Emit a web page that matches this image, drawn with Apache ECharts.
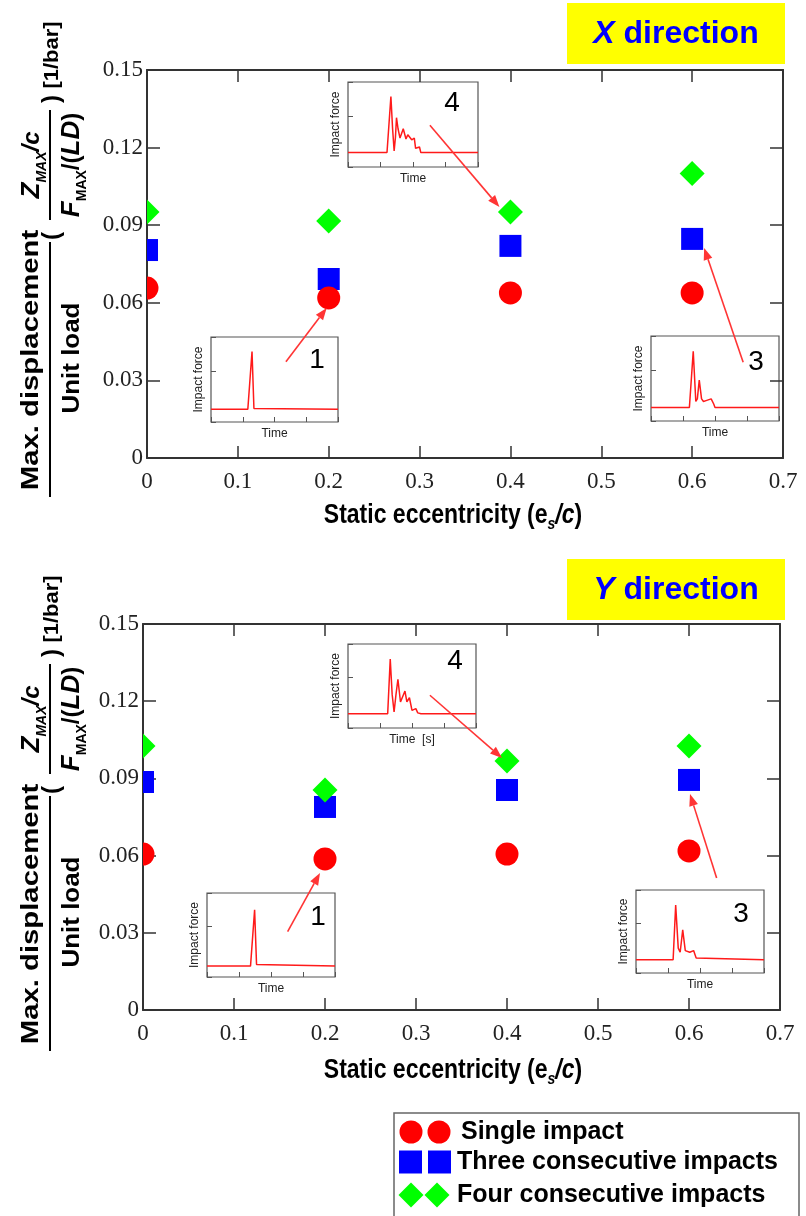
<!DOCTYPE html>
<html>
<head>
<meta charset="utf-8">
<script src="https://cdn.jsdelivr.net/npm/echarts@6/dist/echarts.min.js"></script>
<style>
  html, body { margin: 0; padding: 0; background: #fff; }
  #chart { width: 806px; height: 1216px; }
</style>
</head>
<body>
<div id="chart"></div>
<script>
// Static eccentricity positions (e_s/c)
const eccentricity = [0, 0.2, 0.4, 0.6];

// X direction: max. displacement per unit load [1/bar]
const xSingle = [0.0657, 0.0619, 0.0638, 0.0638];
const xThree  = [0.0804, 0.0692, 0.0820, 0.0847];
const xFour   = [0.0951, 0.0916, 0.0951, 0.1100];

// Y direction: max. displacement per unit load [1/bar]
const ySingle = [0.0606, 0.0587, 0.0606, 0.0618];
const yThree  = [0.0886, 0.0789, 0.0855, 0.0894];
const yFour   = [0.1026, 0.0855, 0.0968, 0.1026];

// Tick labels
const xTickLabels = ['0', '0.1', '0.2', '0.3', '0.4', '0.5', '0.6', '0.7'];
const yTickLabels = ['0', '0.03', '0.06', '0.09', '0.12', '0.15'];

// Legend entries
const seriesNames = ['Single impact', 'Three consecutive impacts', 'Four consecutive impacts'];

// Impact force histories shown in the small panels: [time, force] (normalised)
const pulseX1 = [[0,0.15],[0.29,0.15],[0.305,0.16],[0.323,0.83],[0.338,0.16],[0.35,0.15],[1,0.15]];
const pulseX4 = [[0,0.17],[0.30,0.17],[0.315,0.5],[0.33,0.83],[0.343,0.45],[0.355,0.19],[0.365,0.35],[0.373,0.58],[0.385,0.45],[0.40,0.34],[0.425,0.45],[0.446,0.33],[0.46,0.38],[0.49,0.32],[0.51,0.34],[0.52,0.22],[0.535,0.21],[0.55,0.235],[0.56,0.17],[1,0.17]];
const pulseX3 = [[0,0.16],[0.30,0.16],[0.33,0.82],[0.35,0.23],[0.362,0.26],[0.377,0.48],[0.395,0.26],[0.41,0.23],[0.43,0.24],[0.47,0.26],[0.49,0.20],[0.50,0.16],[1,0.16]];
const pulseY1 = [[0,0.13],[0.34,0.13],[0.355,0.15],[0.372,0.80],[0.387,0.15],[0.40,0.13],[1,0.13]];
const pulseY4 = [[0,0.17],[0.31,0.17],[0.33,0.82],[0.345,0.40],[0.36,0.19],[0.375,0.40],[0.39,0.58],[0.41,0.31],[0.445,0.44],[0.46,0.31],[0.48,0.36],[0.50,0.21],[0.515,0.20],[0.53,0.23],[0.545,0.18],[0.57,0.17],[1,0.17]];
const pulseY3 = [[0,0.16],[0.29,0.16],[0.31,0.82],[0.33,0.30],[0.345,0.25],[0.365,0.52],[0.385,0.27],[0.42,0.25],[0.45,0.27],[0.47,0.18],[0.48,0.16],[1,0.16]];

const SANS = '"Liberation Sans", Arial, sans-serif';
const SERIF = '"Liberation Serif", "Times New Roman", serif';
const RED = '#ff0000', BLUE = '#0000ff', GREEN = '#00ff00';
const ARROW = '#ff3535';

const chart = echarts.init(document.getElementById('chart'), null, { renderer: 'canvas' });

// ---- grids: two main plots + three force panels per plot
const panelBox = { show: true, backgroundColor: '#fff', borderColor: '#555', borderWidth: 1.2 };
const grids = [
  { left: 147, top: 70,  width: 636, height: 388 },
  { left: 143, top: 624, width: 637, height: 386 },
  // X direction panels: 1, 4, 3
  Object.assign({ left: 211, top: 337, width: 127, height: 85 }, panelBox),
  Object.assign({ left: 348, top: 82,  width: 130, height: 85 }, panelBox),
  Object.assign({ left: 651, top: 336, width: 128, height: 85 }, panelBox),
  // Y direction panels: 1, 4, 3
  Object.assign({ left: 207, top: 893, width: 128, height: 84 }, panelBox),
  Object.assign({ left: 348, top: 644, width: 128, height: 84 }, panelBox),
  Object.assign({ left: 636, top: 890, width: 128, height: 83 }, panelBox)
];

function mainX(gridIndex, position, showLabel) {
  return {
    type: 'value', gridIndex, position, min: 0, max: 0.7, interval: 0.1,
    axisLine: { show: true, onZero: false, lineStyle: { color: '#333', width: 2 } },
    axisTick: { show: true, inside: true, length: 12, lineStyle: { color: '#333', width: 1.5 } },
    axisLabel: { show: showLabel, margin: 12, color: '#222', fontFamily: SERIF, fontSize: 23,
      showMinLabel: true, showMaxLabel: true,
      formatter: v => xTickLabels[Math.round(v * 10)] },
    splitLine: { show: false }
  };
}
function mainY(gridIndex, position, showLabel) {
  return {
    type: 'value', gridIndex, position, min: 0, max: 0.15, interval: 0.03,
    axisLine: { show: true, onZero: false, lineStyle: { color: '#333', width: 2 } },
    axisTick: { show: true, inside: true, length: 13, lineStyle: { color: '#333', width: 1.5 } },
    axisLabel: { show: showLabel, margin: 4, color: '#222', fontFamily: SERIF, fontSize: 23,
      showMinLabel: true, showMaxLabel: true,
      formatter: v => yTickLabels[Math.round(v / 0.03)] },
    splitLine: { show: false }
  };
}
function panelX(gridIndex, name) {
  return {
    type: 'value', gridIndex, min: 0, max: 1, interval: 0.25,
    axisLine: { show: false },
    axisTick: { show: true, inside: true, length: 5, lineStyle: { color: '#555', width: 1 } },
    axisLabel: { show: false }, splitLine: { show: false },
    name, nameLocation: 'middle', nameGap: 6,
    nameTextStyle: { fontFamily: SANS, fontSize: 12, color: '#222', verticalAlign: 'top' }
  };
}
function panelY(gridIndex) {
  return {
    type: 'value', gridIndex, min: 0, max: 1, interval: 0.6,
    axisLine: { show: false },
    axisTick: { show: true, inside: true, length: 5, lineStyle: { color: '#555', width: 1 } },
    axisLabel: { show: false }, splitLine: { show: false },
    name: 'Impact force', nameLocation: 'middle', nameRotate: 90, nameGap: 6,
    nameTextStyle: { fontFamily: SANS, fontSize: 12, color: '#222', verticalAlign: 'bottom' }
  };
}

const xAxes = [
  mainX(0, 'bottom', true), mainX(0, 'top', false),
  mainX(1, 'bottom', true), mainX(1, 'top', false),
  panelX(2, 'Time'), panelX(3, 'Time'), panelX(4, 'Time'),
  panelX(5, 'Time'), panelX(6, 'Time  [s]'), panelX(7, 'Time')
];
const yAxes = [
  mainY(0, 'left', true), mainY(0, 'right', false),
  mainY(1, 'left', true), mainY(1, 'right', false),
  panelY(2), panelY(3), panelY(4), panelY(5), panelY(6), panelY(7)
];

function pairs(values) { return eccentricity.map((e, i) => [e, values[i]]); }

// Markers are drawn as custom items so they are cut off at the plot frame
function markers(name, values, axis, shape, size, color, z) {
  return {
    type: 'custom', name, data: pairs(values), xAxisIndex: axis, yAxisIndex: axis,
    encode: { x: 0, y: 1 }, clip: true, z, silent: true,
    renderItem(params, api) {
      const p = api.coord([api.value(0), api.value(1)]);
      const cs = params.coordSys;
      const h = size / 2;
      let el;
      if (shape === 'circle') {
        el = { type: 'circle', shape: { cx: p[0], cy: p[1], r: h } };
      } else if (shape === 'rect') {
        el = { type: 'rect', shape: { x: p[0] - h, y: p[1] - h, width: size, height: size } };
      } else {
        el = { type: 'polygon', shape: { points: [[p[0], p[1] - h], [p[0] + h, p[1]], [p[0], p[1] + h], [p[0] - h, p[1]]] } };
      }
      el.style = { fill: color };
      el.clipPath = { type: 'rect', shape: { x: cs.x, y: cs.y, width: cs.width, height: cs.height } };
      return el;
    }
  };
}
function pulse(data, axis) {
  return {
    type: 'line', data, xAxisIndex: axis, yAxisIndex: axis, showSymbol: false, symbol: 'none',
    lineStyle: { color: '#ff1a1a', width: 1.5 }, z: 5, silent: true
  };
}

const series = [
  markers(seriesNames[1], xThree, 0, 'rect', 22, BLUE, 2),
  markers(seriesNames[0], xSingle, 0, 'circle', 23, RED, 3),
  markers(seriesNames[2], xFour, 0, 'diamond', 25, GREEN, 4),
  markers(seriesNames[1], yThree, 2, 'rect', 22, BLUE, 2),
  markers(seriesNames[0], ySingle, 2, 'circle', 23, RED, 3),
  markers(seriesNames[2], yFour, 2, 'diamond', 25, GREEN, 4),
  pulse(pulseX1, 4), pulse(pulseX4, 5), pulse(pulseX3, 6),
  pulse(pulseY1, 7), pulse(pulseY4, 8), pulse(pulseY3, 9)
];

chart.setOption({
  animation: false,
  backgroundColor: '#fff',
  grid: grids,
  xAxis: xAxes,
  yAxis: yAxes,
  series
});

// ---- annotations --------------------------------------------------------
function txt(x, y, text, size, extra) {
  return { type: 'text', x, y, z: 50, style: Object.assign({
    text, fontSize: size, fontFamily: SANS, fill: '#000',
    align: 'center', verticalAlign: 'middle', textAlign: 'center', textVerticalAlign: 'middle'
  }, extra || {}) };
}

// Rotated y-axis title built in a local frame (u along the reading direction)
function yTitle(ox, oy) {
  const b = { fontWeight: 'bold' };
  const rich = {
    zi:  { fontSize: 26, fontWeight: 'bold', fontStyle: 'italic', fontFamily: SANS, lineHeight: 34, verticalAlign: 'middle' },
    sub: { fontSize: 14, fontWeight: 'bold', fontStyle: 'italic', fontFamily: SANS, lineHeight: 34, verticalAlign: 'bottom' },
    subn:{ fontSize: 14, fontWeight: 'bold', fontFamily: SANS, lineHeight: 34, verticalAlign: 'bottom' },
    n:   { fontSize: 24, fontWeight: 'bold', fontFamily: SANS, lineHeight: 34, verticalAlign: 'middle' },
    ni:  { fontSize: 24, fontWeight: 'bold', fontStyle: 'italic', fontFamily: SANS, lineHeight: 34, verticalAlign: 'middle' }
  };
  const maxDisp = txt(137, -19, 'Max. displacement', 24, b); maxDisp.scaleX = 1.22;
  const unit = txt(139, 22, 'Unit load', 24, b); unit.scaleX = 1.08;
  const bar = txt(442, 2, '[1/bar]', 20, b); bar.scaleX = 1.1;
  const zm = txt(332, -18, '{zi|Z}{sub|MAX}{ni|/c}', 24, Object.assign({ rich }, b));
  const fm = txt(332, 22, '{zi|F}{subn|MAX}{n|/(}{zi|LD}{n|)}', 24, Object.assign({ rich }, b));
  return {
    type: 'group', x: ox, y: oy, rotation: Math.PI / 2, z: 50,
    children: [
      { type: 'line', shape: { x1: 0, y1: 0, x2: 255, y2: 0 }, style: { stroke: '#000', lineWidth: 2 } },
      maxDisp, unit,
      txt(261, 2, '(', 24, b),
      zm,
      { type: 'line', shape: { x1: 277, y1: 0, x2: 387, y2: 0 }, style: { stroke: '#000', lineWidth: 2 } },
      fm,
      txt(398, 2, ')', 24, b),
      bar
    ]
  };
}

function xTitle(cx, cy) {
  const rich = {
    n:  { fontSize: 23, fontWeight: 'bold', fontFamily: SANS },
    s:  { fontSize: 14, fontWeight: 'bold', fontStyle: 'italic', fontFamily: SANS, verticalAlign: 'bottom', lineHeight: 30 },
    i:  { fontSize: 23, fontWeight: 'bold', fontStyle: 'italic', fontFamily: SANS }
  };
  const t = txt(cx, cy, '{n|Static eccentricity (e}{s|s}{i|/c}{n|)}', 23, { fontWeight: 'bold', rich });
  t.scaleY = 1.2;
  return t;
}

function titleBox(x, y, w, h, letter) {
  const rich = {
    i: { fontSize: 32, fontWeight: 'bold', fontStyle: 'italic', fontFamily: SANS, fill: BLUE },
    n: { fontSize: 32, fontWeight: 'bold', fontFamily: SANS, fill: BLUE }
  };
  return [
    { type: 'rect', shape: { x, y, width: w, height: h }, style: { fill: '#ffff00' }, z: 40 },
    txt(x + w / 2, y + h / 2 + 1, '{i|' + letter + '}{n| direction}', 32, { rich, fill: BLUE, fontWeight: 'bold' })
  ];
}

function arrow(fromGrid, from, toGrid, to, offset) {
  const p0 = chart.convertToPixel({ gridIndex: fromGrid }, from);
  const c = chart.convertToPixel({ gridIndex: toGrid }, to);
  const tip = [c[0] + offset[0], c[1] + offset[1]];
  const dx = tip[0] - p0[0], dy = tip[1] - p0[1];
  const len = Math.hypot(dx, dy);
  const ux = dx / len, uy = dy / len;
  const head = 12, half = 4.5;
  const base = [tip[0] - ux * head, tip[1] - uy * head];
  return [
    { type: 'line', z: 45, shape: { x1: p0[0], y1: p0[1], x2: base[0], y2: base[1] }, style: { stroke: ARROW, lineWidth: 1.6 } },
    { type: 'polygon', z: 45, shape: { points: [tip, [base[0] - uy * half, base[1] + ux * half], [base[0] + uy * half, base[1] - ux * half]] }, style: { fill: ARROW } }
  ];
}

function legend() {
  const items = [];
  items.push({ type: 'rect', z: 40, shape: { x: 394, y: 1113, width: 405, height: 110 }, style: { fill: '#fff', stroke: '#666', lineWidth: 1.5 } });
  const rows = [1132, 1162, 1195];
  items.push({ type: 'circle', z: 41, shape: { cx: 411, cy: rows[0], r: 11.5 }, style: { fill: RED } });
  items.push({ type: 'circle', z: 41, shape: { cx: 439, cy: rows[0], r: 11.5 }, style: { fill: RED } });
  items.push({ type: 'rect', z: 41, shape: { x: 399, y: rows[1] - 11.5, width: 23, height: 23 }, style: { fill: BLUE } });
  items.push({ type: 'rect', z: 41, shape: { x: 428, y: rows[1] - 11.5, width: 23, height: 23 }, style: { fill: BLUE } });
  [411, 437].forEach(cx => items.push({ type: 'polygon', z: 41, shape: { points: [[cx, rows[2] - 12.5], [cx + 12.5, rows[2]], [cx, rows[2] + 12.5], [cx - 12.5, rows[2]]] }, style: { fill: GREEN } }));
  const tx = [461, 457, 457];
  seriesNames.forEach((n, i) => items.push(txt(tx[i], rows[i], n, 25, { fontWeight: 'bold', align: 'left', textAlign: 'left' })));
  return items;
}

const graphics = [].concat(
  titleBox(567, 3, 218, 61, 'X'),
  titleBox(567, 559, 218, 61, 'Y'),
  [yTitle(50, 497), yTitle(50, 1051), xTitle(453, 515), xTitle(453, 1070)],
  // panel numbers
  [txt(452, 103, '4', 28), txt(317, 360, '1', 28), txt(756, 362, '3', 28),
   txt(455, 661, '4', 28), txt(318, 917, '1', 28), txt(741, 914, '3', 28)],
  arrow(2, [0.59, 0.71], 0, [eccentricity[1], xSingle[1]], [-2, 10]),
  arrow(3, [0.63, 0.49], 0, [eccentricity[2], xFour[2]], [-11, -5]),
  arrow(4, [0.72, 0.69], 0, [eccentricity[3], xThree[3]], [12, 9]),
  arrow(5, [0.63, 0.54], 1, [eccentricity[1], ySingle[1]], [-5, 14]),
  arrow(6, [0.64, 0.39], 1, [eccentricity[2], yFour[2]], [-5, -3]),
  arrow(7, [0.63, 1.145], 1, [eccentricity[3], yThree[3]], [1, 14]),
  legend()
);

chart.setOption({ graphic: graphics });
</script>
</body>
</html>
